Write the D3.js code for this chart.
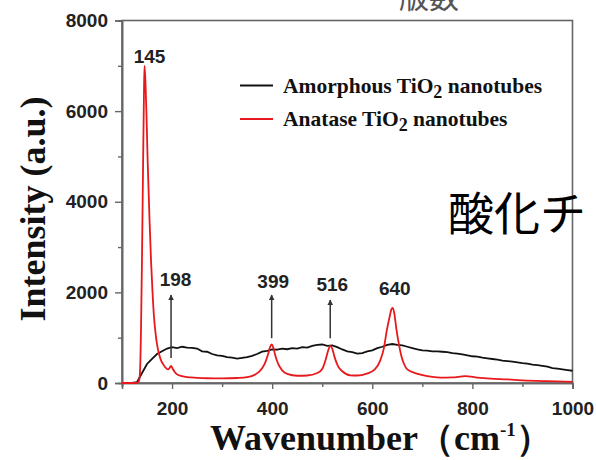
<!DOCTYPE html>
<html>
<head>
<meta charset="utf-8">
<script src="https://cdn.jsdelivr.net/npm/d3@7"></script>
<style>
  body { margin: 0; background: #fff; }
  svg { display: block; }
</style>
</head>
<body>
<svg width="596" height="460"></svg>
<script>
// anatase TiO2 (red) - wavenumber / intensity
const anataseX = [100, 110, 120, 130, 134, 136, 138, 140, 142, 144, 145, 147, 149, 151, 153, 155, 158, 161, 164, 167, 170, 174, 178, 183, 188, 192, 195, 198, 201, 205, 210, 220, 230, 250, 270, 300, 330, 350, 365, 375, 385, 392, 396, 399, 402, 406, 412, 420, 430, 450, 470, 490, 500, 507, 512, 516, 520, 525, 532, 540, 556, 570, 589, 605, 616, 623, 629, 635, 638, 641, 644, 648, 653, 658, 663, 670, 689, 710, 736, 760, 786, 810, 836, 870, 900, 950, 1000];
const anataseY = [0, 0, 0, 5, 50, 250, 1200, 2800, 4700, 6500, 7000, 6600, 5900, 5000, 4300, 3600, 2700, 2000, 1450, 1100, 850, 640, 500, 400, 330, 300, 330, 380, 320, 250, 190, 150, 130, 115, 105, 100, 110, 130, 180, 260, 420, 640, 800, 850, 790, 620, 420, 280, 200, 160, 165, 220, 310, 520, 720, 820, 760, 560, 360, 260, 170, 165, 207, 300, 500, 760, 1160, 1480, 1620, 1660, 1540, 1200, 870, 600, 430, 300, 207, 150, 120, 125, 150, 120, 97, 80, 60, 40, 25];

// amorphous TiO2 (black)
const amorphX = d3.range(100, 1001, 10);
const amorphY = [0, 0, 0, 20, 220, 420, 530, 640, 700, 760,
  790, 770, 800, 780, 775, 760, 700, 690, 640, 610,
  600, 570, 560, 540, 555, 570, 600, 640, 690, 710,
  740, 735, 760, 745, 770, 760, 790, 780, 820, 840,
  850, 820, 830, 790, 740, 700, 680, 650, 660, 700,
  720, 770, 800, 840, 860, 840, 830, 800, 770, 740,
  720, 715, 700, 700, 690, 680, 660, 650, 630, 610,
  590, 580, 560, 545, 530, 515, 495, 485, 470, 455,
  440, 430, 405, 395, 380, 360, 330, 315, 300, 285, 270];

const peakLabels = ["145", "198", "399", "516", "640"];
const peakLabelX = [155, 207, 402, 520, 645];
const peakLabelY = [7070, 2130, 2090, 2040, 1950];

const arrowX = [198, 399, 516];
const arrowFrom = [550, 990, 990];
const arrowTo = [1940, 1940, 1830];

const xMajor = [200, 400, 600, 800, 1000];
const xMinor = [100, 300, 500, 700, 900];
const yMajor = [0, 2000, 4000, 6000, 8000];
const yMinor = [1000, 3000, 5000, 7000];

const seriesNames = ["Amorphous TiO", "Anatase TiO"];
const seriesColors = ["#111111", "#e8191c"];

const svg = d3.select("svg");
const x = d3.scaleLinear().domain([100, 1000]).range([122, 572.5]);
const y = d3.scaleLinear().domain([0, 8000]).range([383, 20.5]);

const axisColor = "#666";
const tickFont = "'Liberation Sans', Arial, sans-serif";
const serif = "'Liberation Serif', 'Times New Roman', serif";

// frame
svg.append("rect")
  .attr("x", x(100)).attr("y", y(8000))
  .attr("width", x(1000) - x(100)).attr("height", y(0) - y(8000))
  .attr("fill", "none").attr("stroke", axisColor).attr("stroke-width", 1.6);

function styleAxis(g) {
  g.select(".domain").attr("stroke", axisColor).attr("stroke-width", 1.6);
  g.selectAll(".tick line").attr("stroke", axisColor).attr("stroke-width", 1.4);
  g.selectAll("text")
    .attr("fill", "#222")
    .style("font-family", tickFont)
    .style("font-weight", "bold")
    .style("font-size", "19px");
}

svg.append("g").attr("transform", `translate(0,${y(0)})`)
  .call(d3.axisBottom(x).tickValues(xMinor).tickSize(4).tickFormat(""))
  .call(styleAxis);
svg.append("g").attr("transform", `translate(0,${y(0)})`)
  .call(d3.axisBottom(x).tickValues(xMajor).tickSize(6).tickPadding(13).tickFormat(d3.format("d")))
  .call(styleAxis);
svg.append("g").attr("transform", `translate(${x(100)},0)`)
  .call(d3.axisLeft(y).tickValues(yMinor).tickSize(4).tickFormat(""))
  .call(styleAxis);
svg.append("g").attr("transform", `translate(${x(100)},0)`)
  .call(d3.axisLeft(y).tickValues(yMajor).tickSize(7).tickPadding(7).tickFormat(d3.format("d")))
  .call(styleAxis);

// curves
const line = d3.line().x(d => x(d[0])).y(d => y(d[1]));
const amorph = amorphX.map((v, i) => [v, amorphY[i]]);
const anatase = anataseX.map((v, i) => [v, anataseY[i]]);

svg.append("path").datum(amorph)
  .attr("d", line.curve(d3.curveLinear))
  .attr("fill", "none").attr("stroke", seriesColors[0]).attr("stroke-width", 1.8);
svg.append("path").datum(anatase)
  .attr("d", line.curve(d3.curveMonotoneX))
  .attr("fill", "none").attr("stroke", seriesColors[1]).attr("stroke-width", 1.8);

// arrows
svg.append("defs").append("marker")
  .attr("id", "head").attr("viewBox", "0 0 10 10")
  .attr("refX", 9).attr("refY", 5)
  .attr("markerWidth", 6).attr("markerHeight", 6)
  .attr("markerUnits", "userSpaceOnUse")
  .attr("orient", "auto")
  .append("path").attr("d", "M0,0L10,5L0,10Z").attr("fill", "#333");

svg.selectAll("line.arrow")
  .data(arrowX)
  .enter()
  .append("line")
  .attr("class", "arrow")
  .attr("x1", d => x(d)).attr("x2", d => x(d))
  .attr("y1", (d, i) => y(arrowFrom[i]))
  .attr("y2", (d, i) => y(arrowTo[i]))
  .attr("stroke", "#333").attr("stroke-width", 1.5)
  .attr("marker-end", "url(#head)");

// peak labels
svg.selectAll("text.peak")
  .data(peakLabels)
  .enter()
  .append("text")
  .attr("class", "peak")
  .attr("x", (d, i) => x(peakLabelX[i]))
  .attr("y", (d, i) => y(peakLabelY[i]))
  .attr("text-anchor", "middle")
  .style("font-family", tickFont)
  .style("font-weight", "bold")
  .style("font-size", "19px")
  .attr("fill", "#222")
  .text(d => d);

// legend
const legend = svg.append("g").attr("transform", "translate(240,85.5)");
seriesNames.forEach((name, i) => {
  const row = legend.append("g").attr("transform", `translate(0,${i * 33.5})`);
  row.append("line").attr("x1", 0).attr("x2", 33)
    .attr("stroke", seriesColors[i]).attr("stroke-width", 2.2);
  const t = row.append("text").attr("x", 43).attr("y", 7)
    .style("font-family", serif).style("font-weight", "bold")
    .style("font-size", "21.5px").attr("fill", "#111");
  t.append("tspan").text(name);
  t.append("tspan").attr("dy", 5).style("font-size", "18px").text("2");
  t.append("tspan").attr("dy", -5).text(" nanotubes");
});

// axis titles
svg.append("text")
  .attr("transform", "rotate(-90)")
  .attr("x", -209).attr("y", 45)
  .attr("text-anchor", "middle")
  .style("font-family", serif).style("font-weight", "bold")
  .style("font-size", "36px").attr("fill", "#111")
  .text("Intensity (a.u.)");

const xt = svg.append("text")
  .attr("x", 210).attr("y", 450)
  .style("font-family", serif).style("font-weight", "bold")
  .style("font-size", "36px").attr("fill", "#111");
xt.append("tspan").text("Wavenumber（cm");
xt.append("tspan").attr("dy", -14).style("font-size", "19px").text("-1");
xt.append("tspan").attr("dy", 14).text("）");

// stray overlay text from the page
svg.append("text")
  .attr("x", 448).attr("y", 230)
  .style("font-family", "'Noto Sans CJK JP', sans-serif")
  .style("font-size", "46px").attr("fill", "#000")
  .text("酸化チ");
svg.append("text")
  .attr("x", 399).attr("y", 8)
  .style("font-family", "'Noto Sans CJK JP', sans-serif")
  .style("font-size", "30px").attr("fill", "#555")
  .text("版数");
</script>
</body>
</html>
